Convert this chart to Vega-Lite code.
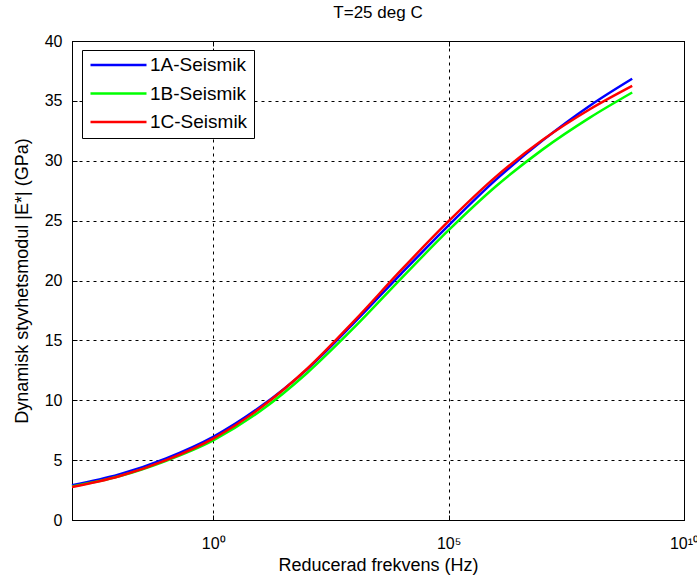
{
  "$schema": "https://vega.github.io/schema/vega-lite/v6.json",
  "width": 612,
  "height": 479,
  "autosize": {"type": "none"},
  "padding": {"left": 72, "top": 41, "right": 13, "bottom": 61},
  "background": "white",
  "config": {
    "font": "Liberation Sans",
    "view": {"stroke": "black", "strokeWidth": 1}
  },
  "title": {
    "text": "T=25 deg C",
    "fontSize": 17,
    "fontWeight": "normal",
    "color": "black",
    "anchor": "middle",
    "offset": 11
  },
  "data": {
    "values": [
      {"serie": "1A-Seismik", "f": 0.001, "E": 2.9},
      {"serie": "1A-Seismik", "f": 0.01, "E": 3.8},
      {"serie": "1A-Seismik", "f": 0.1, "E": 5.15},
      {"serie": "1A-Seismik", "f": 1, "E": 6.95},
      {"serie": "1A-Seismik", "f": 10, "E": 9.45},
      {"serie": "1A-Seismik", "f": 100, "E": 12.6},
      {"serie": "1A-Seismik", "f": 1000, "E": 16.5},
      {"serie": "1A-Seismik", "f": 10000, "E": 20.6},
      {"serie": "1A-Seismik", "f": 100000, "E": 24.6},
      {"serie": "1A-Seismik", "f": 1000000, "E": 28.4},
      {"serie": "1A-Seismik", "f": 10000000, "E": 31.7},
      {"serie": "1A-Seismik", "f": 100000000, "E": 34.6},
      {"serie": "1A-Seismik", "f": 794000000, "E": 36.85},
      {"serie": "1B-Seismik", "f": 0.001, "E": 2.8},
      {"serie": "1B-Seismik", "f": 0.01, "E": 3.65},
      {"serie": "1B-Seismik", "f": 0.1, "E": 4.95},
      {"serie": "1B-Seismik", "f": 1, "E": 6.65},
      {"serie": "1B-Seismik", "f": 10, "E": 9.1},
      {"serie": "1B-Seismik", "f": 100, "E": 12.3},
      {"serie": "1B-Seismik", "f": 1000, "E": 16.1},
      {"serie": "1B-Seismik", "f": 10000, "E": 20.2},
      {"serie": "1B-Seismik", "f": 100000, "E": 24.2},
      {"serie": "1B-Seismik", "f": 1000000, "E": 27.85},
      {"serie": "1B-Seismik", "f": 10000000, "E": 30.95},
      {"serie": "1B-Seismik", "f": 100000000, "E": 33.6},
      {"serie": "1B-Seismik", "f": 794000000, "E": 35.7},
      {"serie": "1C-Seismik", "f": 0.001, "E": 2.75},
      {"serie": "1C-Seismik", "f": 0.01, "E": 3.65},
      {"serie": "1C-Seismik", "f": 0.1, "E": 5.0},
      {"serie": "1C-Seismik", "f": 1, "E": 6.8},
      {"serie": "1C-Seismik", "f": 10, "E": 9.35},
      {"serie": "1C-Seismik", "f": 100, "E": 12.65},
      {"serie": "1C-Seismik", "f": 1000, "E": 16.65},
      {"serie": "1C-Seismik", "f": 10000, "E": 20.9},
      {"serie": "1C-Seismik", "f": 100000, "E": 24.95},
      {"serie": "1C-Seismik", "f": 1000000, "E": 28.65},
      {"serie": "1C-Seismik", "f": 10000000, "E": 31.75},
      {"serie": "1C-Seismik", "f": 100000000, "E": 34.3},
      {"serie": "1C-Seismik", "f": 794000000, "E": 36.25}
    ]
  },
  "layer": [
    {
      "mark": {"type": "line", "interpolate": "monotone", "strokeWidth": 2.5},
      "encoding": {
        "x": {
          "field": "f",
          "type": "quantitative",
          "scale": {"type": "log", "domain": [0.001, 10000000000]},
          "axis": {
            "orient": "bottom",
            "values": [1, 100000, 10000000000],
            "labelExpr": "datum.value == 1 ? '10⁰' : datum.value == 100000 ? '10⁵' : '10¹⁰'",
            "grid": true,
            "gridDash": [3, 4],
            "gridColor": "black",
            "gridOpacity": 1,
            "tickSize": -5,
            "tickColor": "black",
            "domainColor": "black",
            "labelFontSize": 16,
            "labelColor": "black",
            "labelPadding": 20,
            "labelFlush": false,
            "title": "Reducerad frekvens (Hz)",
            "titleFontSize": 18,
            "titleFontWeight": "normal",
            "titleColor": "black",
            "titlePadding": 5
          }
        },
        "y": {
          "field": "E",
          "type": "quantitative",
          "scale": {"domain": [0, 40]},
          "axis": {
            "orient": "left",
            "values": [0, 5, 10, 15, 20, 25, 30, 35, 40],
            "grid": true,
            "gridDash": [3, 4],
            "gridColor": "black",
            "gridOpacity": 1,
            "tickSize": -5,
            "tickColor": "black",
            "domainColor": "black",
            "labelFontSize": 16,
            "labelColor": "black",
            "labelPadding": 15,
            "labelFlush": false,
            "title": "Dynamisk styvhetsmodul |E*| (GPa)",
            "titleFontSize": 18,
            "titleFontWeight": "normal",
            "titleColor": "black",
            "titlePadding": 13
          }
        },
        "color": {
          "field": "serie",
          "type": "nominal",
          "scale": {
            "domain": ["1A-Seismik", "1B-Seismik", "1C-Seismik"],
            "range": ["#0000ff", "#00ff00", "#ff0000"]
          },
          "legend": {
            "orient": "none",
            "legendX": 10,
            "legendY": 9,
            "title": null,
            "symbolType": "stroke",
            "symbolSize": 3136,
            "symbolStrokeWidth": 2.5,
            "symbolOffset": 1,
            "clipHeight": 18,
            "rowPadding": 9.5,
            "labelOffset": 2,
            "labelFontSize": 19,
            "labelColor": "black",
            "labelLimit": 0,
            "strokeColor": "black",
            "fillColor": "white",
            "padding": 6
          }
        }
      }
    },
    {
      "mark": {"type": "line", "opacity": 0},
      "encoding": {
        "x": {
          "field": "f",
          "type": "quantitative",
          "scale": {"type": "log", "domain": [0.001, 10000000000]},
          "axis": {
            "orient": "top",
            "values": [1, 100000, 10000000000],
            "labels": false,
            "grid": false,
            "tickSize": -5,
            "tickColor": "black",
            "domainColor": "black",
            "title": null
          }
        },
        "y": {
          "field": "E",
          "type": "quantitative",
          "scale": {"domain": [0, 40]},
          "axis": {
            "orient": "right",
            "values": [0, 5, 10, 15, 20, 25, 30, 35, 40],
            "labels": false,
            "grid": false,
            "tickSize": -5,
            "tickColor": "black",
            "domainColor": "black",
            "title": null
          }
        },
        "detail": {"field": "serie", "type": "nominal"}
      }
    }
  ],
  "resolve": {"axis": {"x": "independent", "y": "independent"}}
}
